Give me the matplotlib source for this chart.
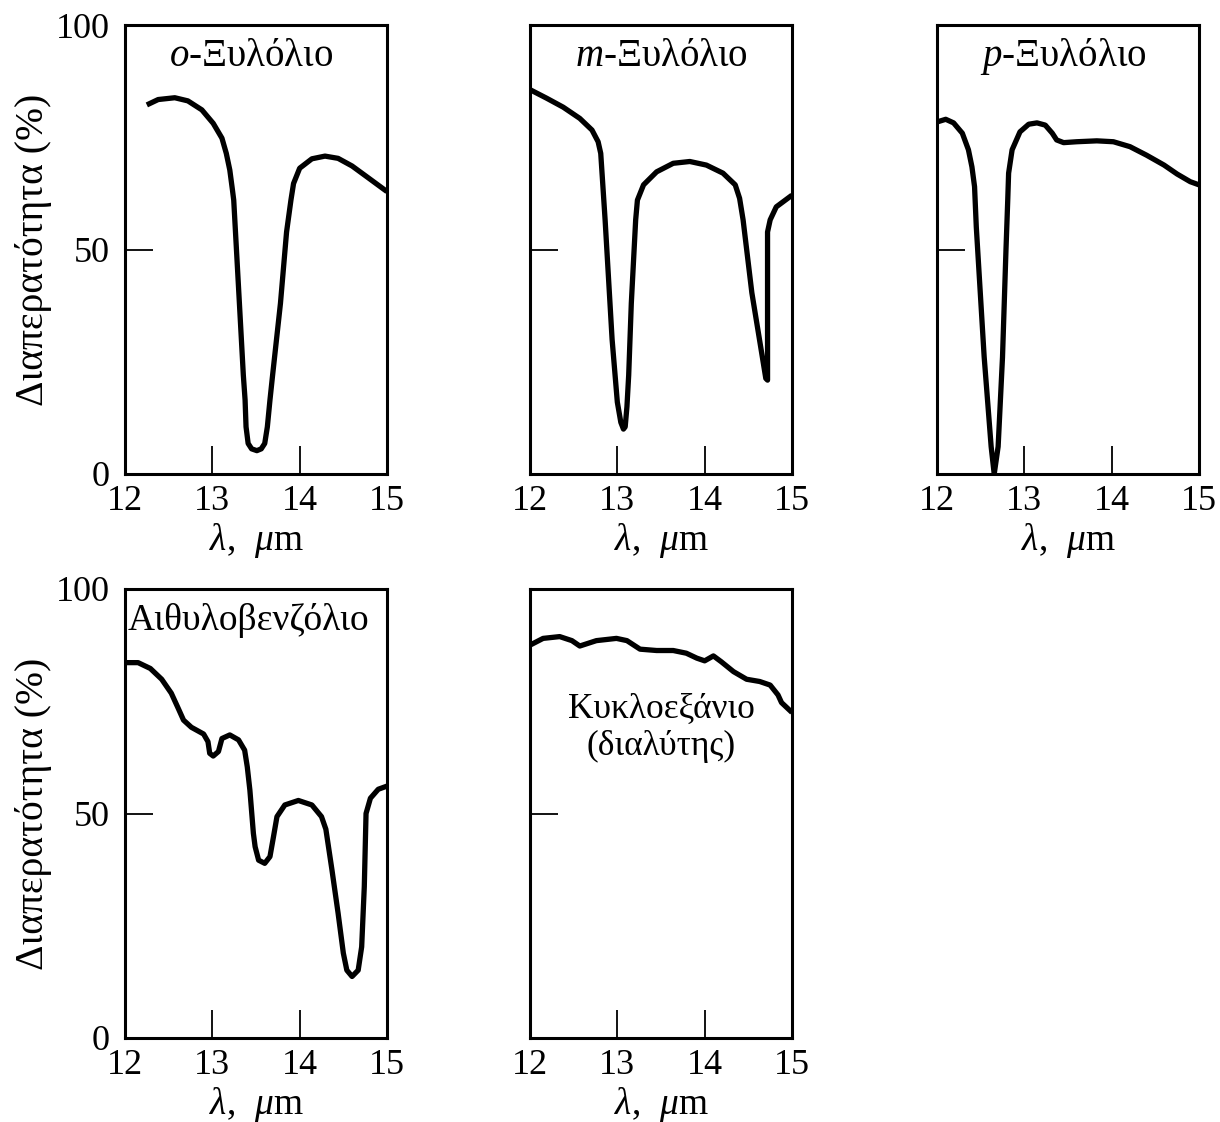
import matplotlib
matplotlib.use("Agg")
import matplotlib.pyplot as plt

plt.rcParams['font.family'] = ['Liberation Serif', 'DejaVu Serif']
plt.rcParams['mathtext.fontset'] = 'custom'
plt.rcParams['mathtext.rm'] = 'Liberation Serif'
plt.rcParams['mathtext.it'] = 'Liberation Serif:italic'

# φάσματα διαπερατότητας (λ σε μm, T σε %)
oxy_x = [12.25, 12.38, 12.57, 12.72, 12.88, 13.01, 13.11, 13.16, 13.20, 13.23, 13.245, 13.31,
         13.355, 13.375, 13.386, 13.41, 13.45, 13.51, 13.56, 13.60, 13.63, 13.66, 13.69, 13.78,
         13.85, 13.90, 13.93, 14.00, 14.14, 14.29, 14.44, 14.60, 14.79, 15.0]
oxy_y = [82.2, 83.4, 83.8, 83.1, 81.1, 78.1, 74.8, 71.4, 67.7, 63.3, 61.0, 38.0,
         22.0, 16.5, 10.5, 6.8, 5.6, 5.2, 5.6, 6.8, 10.5, 16.5, 22.0, 38.0,
         53.9, 61.0, 64.7, 68.1, 70.2, 70.8, 70.3, 68.6, 65.9, 62.9]

mxy_x = [12.0, 12.19, 12.38, 12.57, 12.71, 12.78, 12.81, 12.83, 12.86, 12.94, 13.00, 13.04,
         13.07, 13.09, 13.11, 13.13, 13.16, 13.21, 13.23, 13.30, 13.45, 13.64, 13.83, 14.02,
         14.21, 14.35, 14.40, 14.44, 14.54, 14.66, 14.70, 14.72, 14.72, 14.75, 14.82, 15.0]
mxy_y = [85.6, 83.7, 81.7, 79.2, 76.6, 74.0, 71.4, 65.5, 56.6, 30.0, 16.0, 11.5,
         10.0, 10.5, 15.0, 22.0, 38.0, 56.6, 61.0, 64.4, 67.3, 69.2, 69.6, 68.8,
         67.0, 64.4, 61.4, 56.6, 40.4, 26.1, 21.3, 20.9, 53.9, 56.6, 59.5, 62.1]

pxy_x = [12.0, 12.10, 12.19, 12.29, 12.36, 12.40, 12.43, 12.45, 12.54, 12.62, 12.655, 12.70,
         12.75, 12.79, 12.81, 12.82, 12.86, 12.95, 13.05, 13.145, 13.24, 13.32, 13.37, 13.45,
         13.60, 13.83, 14.02, 14.21, 14.40, 14.60, 14.75, 14.90, 15.0]
pxy_y = [78.4, 79.0, 78.2, 75.9, 72.2, 68.4, 64.0, 55.0, 26.1, 6.1, 0.0, 6.1,
         26.0, 50.0, 61.0, 67.0, 72.2, 76.2, 77.9, 78.2, 77.7, 75.9, 74.4, 73.8,
         74.0, 74.2, 74.0, 72.9, 71.0, 68.8, 66.8, 65.1, 64.4]

eth_x = [12.0, 12.15, 12.29, 12.42, 12.53, 12.61, 12.67, 12.76, 12.90, 12.95, 12.97, 13.01,
         13.07, 13.11, 13.20, 13.30, 13.37, 13.40, 13.43, 13.47, 13.49, 13.53, 13.60, 13.66,
         13.70, 13.74, 13.83, 13.985, 14.14, 14.25, 14.30, 14.37, 14.44, 14.50, 14.54, 14.60,
         14.67, 14.71, 14.74, 14.76, 14.81, 14.90, 15.0]
eth_y = [83.6, 83.6, 82.3, 79.9, 76.8, 73.4, 70.8, 69.2, 67.7, 66.0, 63.4, 62.8,
         63.8, 66.7, 67.5, 66.4, 64.1, 60.4, 55.2, 45.6, 42.6, 39.6, 38.9, 40.4,
         44.8, 49.3, 51.9, 52.9, 51.9, 49.3, 46.5, 37.4, 27.8, 18.9, 15.1, 13.7,
         15.1, 20.3, 33.7, 50.0, 53.4, 55.4, 56.1]

cyc_x = [12.0, 12.15, 12.34, 12.48, 12.57, 12.76, 12.99, 13.11, 13.26, 13.45, 13.64, 13.79,
         13.91, 14.00, 14.10, 14.19, 14.33, 14.48, 14.63, 14.75, 14.84, 14.88, 14.94, 15.0]
cyc_y = [87.5, 89.0, 89.4, 88.5, 87.3, 88.5, 89.0, 88.5, 86.6, 86.3, 86.3, 85.7,
         84.6, 84.0, 85.1, 83.8, 81.6, 79.9, 79.4, 78.6, 76.4, 74.7, 73.6, 72.5]

series = [
    (oxy_x, oxy_y, '$o$-Ξυλόλιο', (0.48, 0.93), 28),
    (mxy_x, mxy_y, '$m$-Ξυλόλιο', (0.50, 0.93), 28),
    (pxy_x, pxy_y, '$p$-Ξυλόλιο', (0.48, 0.93), 28),
    (eth_x, eth_y, 'Αιθυλοβενζόλιο', (0.47, 0.93), 27),
    (cyc_x, cyc_y, 'Κυκλοεξάνιο\n(διαλύτης)', (0.50, 0.69), 25.5),
]

W, H = 1220, 1122
fig = plt.figure(figsize=(W / 100, H / 100), dpi=100)

lefts = [125, 530, 937]
tops = [25, 589]
aw, ah = 262, 449
slots = [(0, 0), (1, 0), (2, 0), (0, 1), (1, 1)]

for (xs, ys, name, tpos, fs), (c, r) in zip(series, slots):
    ax = fig.add_axes([lefts[c] / W, 1 - (tops[r] + ah) / H, aw / W, ah / H])
    ax.plot(xs, ys, color='black', lw=3.8, solid_joinstyle='round', solid_capstyle='butt')
    ax.set_xlim(12, 15)
    ax.set_ylim(0, 100)
    ax.set_xticks([12, 13, 14, 15])
    ax.set_yticks([0, 50, 100])
    ax.tick_params(direction='in', length=20, width=1.3, labelsize=26, top=False, right=False)
    ax.tick_params(axis='x', pad=8)
    ax.tick_params(axis='y', pad=11)
    for sp in ax.spines.values():
        sp.set_linewidth(2.2)
    ax.set_xlabel(r'$\lambda$,  $\mu$m', fontsize=27, labelpad=2)
    if c == 0:
        ax.set_ylabel('Διαπερατότητα (%)', fontsize=28.5, labelpad=3)
    else:
        ax.set_yticklabels([])
    ax.text(tpos[0], tpos[1], name, transform=ax.transAxes, ha='center', va='center',
            fontsize=fs, linespacing=1.15)

fig.savefig('out.png', dpi=100)
